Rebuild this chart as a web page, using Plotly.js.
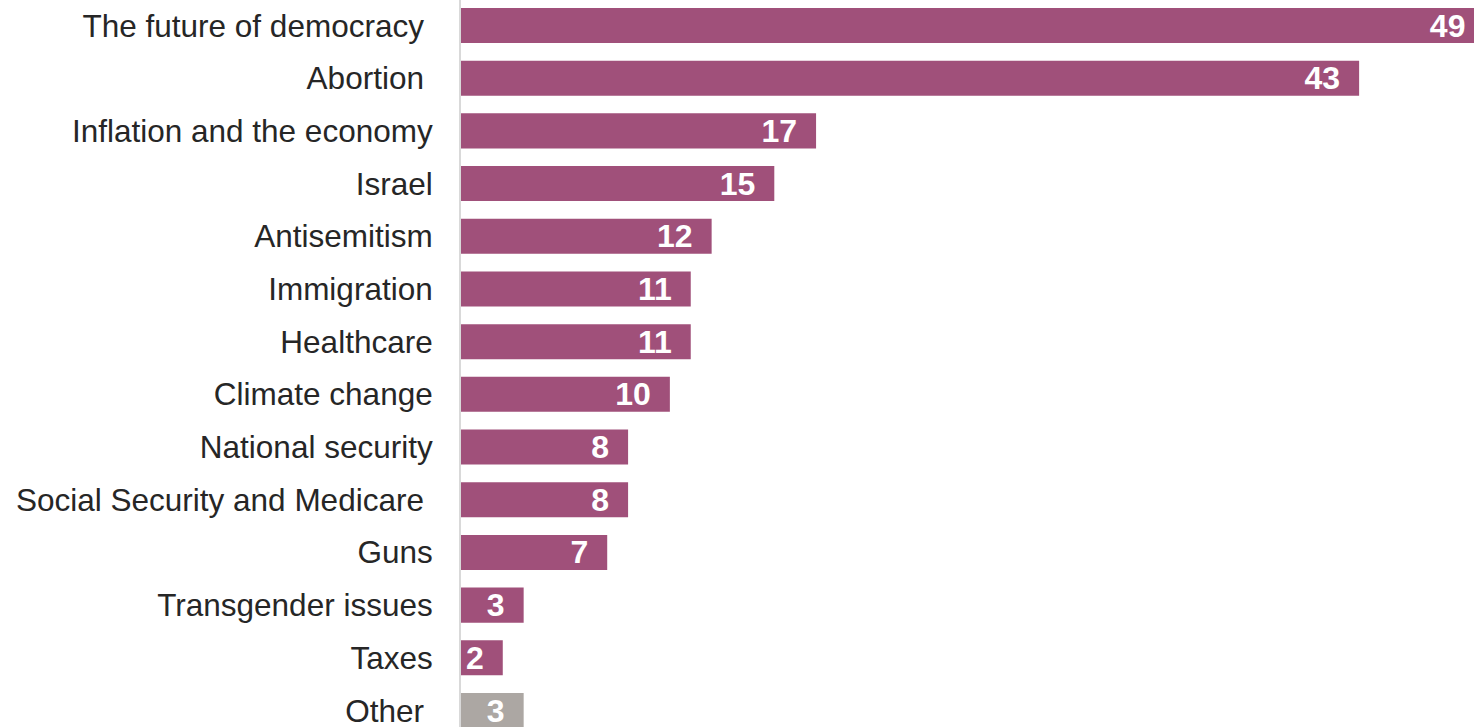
<!DOCTYPE html>
<html>
<head>
<meta charset="utf-8">
<script src="https://cdn.plot.ly/plotly-3.0.1.min.js"></script>
<style>html,body{margin:0;padding:0;background:#fff;}#chart{width:1474px;height:727px;}</style>
</head>
<body>
<div id="chart"></div>
<script>
var categories = [
  "The future of democracy\u00a0",
  "Abortion\u00a0",
  "Inflation and the economy",
  "Israel",
  "Antisemitism",
  "Immigration",
  "Healthcare",
  "Climate change",
  "National security",
  "Social Security and Medicare\u00a0",
  "Guns",
  "Transgender issues",
  "Taxes",
  "Other\u00a0"
];
var values = [49, 43, 17, 15, 12, 11, 11, 10, 8, 8, 7, 3, 2, 3];
var barColors = ["#a0507a","#a0507a","#a0507a","#a0507a","#a0507a","#a0507a","#a0507a",
                 "#a0507a","#a0507a","#a0507a","#a0507a","#a0507a","#a0507a","#aca7a3"];

var trace = {
  type: "bar",
  orientation: "h",
  x: values,
  y: categories,
  marker: {color: barColors, line: {width: 0}},
  text: values.map(function(v){ return String(v) + "\u2002"; }),
  textposition: "inside",
  insidetextanchor: "end",
  textangle: 0,
  constraintext: "none",
  insidetextfont: {family: "Liberation Sans, Arial, sans-serif", size: 32, color: "#ffffff", weight: 700},
  hoverinfo: "none",
  cliponaxis: true
};

var layout = {
  width: 1474,
  height: 727,
  margin: {l: 461, r: 0, t: 0, b: 0, pad: 0},
  paper_bgcolor: "#ffffff",
  plot_bgcolor: "#ffffff",
  showlegend: false,
  bargap: 0.335,
  xaxis: {
    range: [0, 48.5],
    visible: false,
    fixedrange: true
  },
  yaxis: {
    type: "category",
    range: [13.313, -0.484],
    showline: true,
    linecolor: "#d9d9d9",
    linewidth: 2,
    showgrid: false,
    zeroline: false,
    ticks: "outside",
    ticklen: 20,
    tickcolor: "rgba(0,0,0,0)",
    tickfont: {family: "Liberation Sans, Arial, sans-serif", size: 31.5, color: "#262626"},
    fixedrange: true
  }
};

Plotly.newPlot("chart", [trace], layout, {displayModeBar: false, staticPlot: true});
</script>
</body>
</html>
